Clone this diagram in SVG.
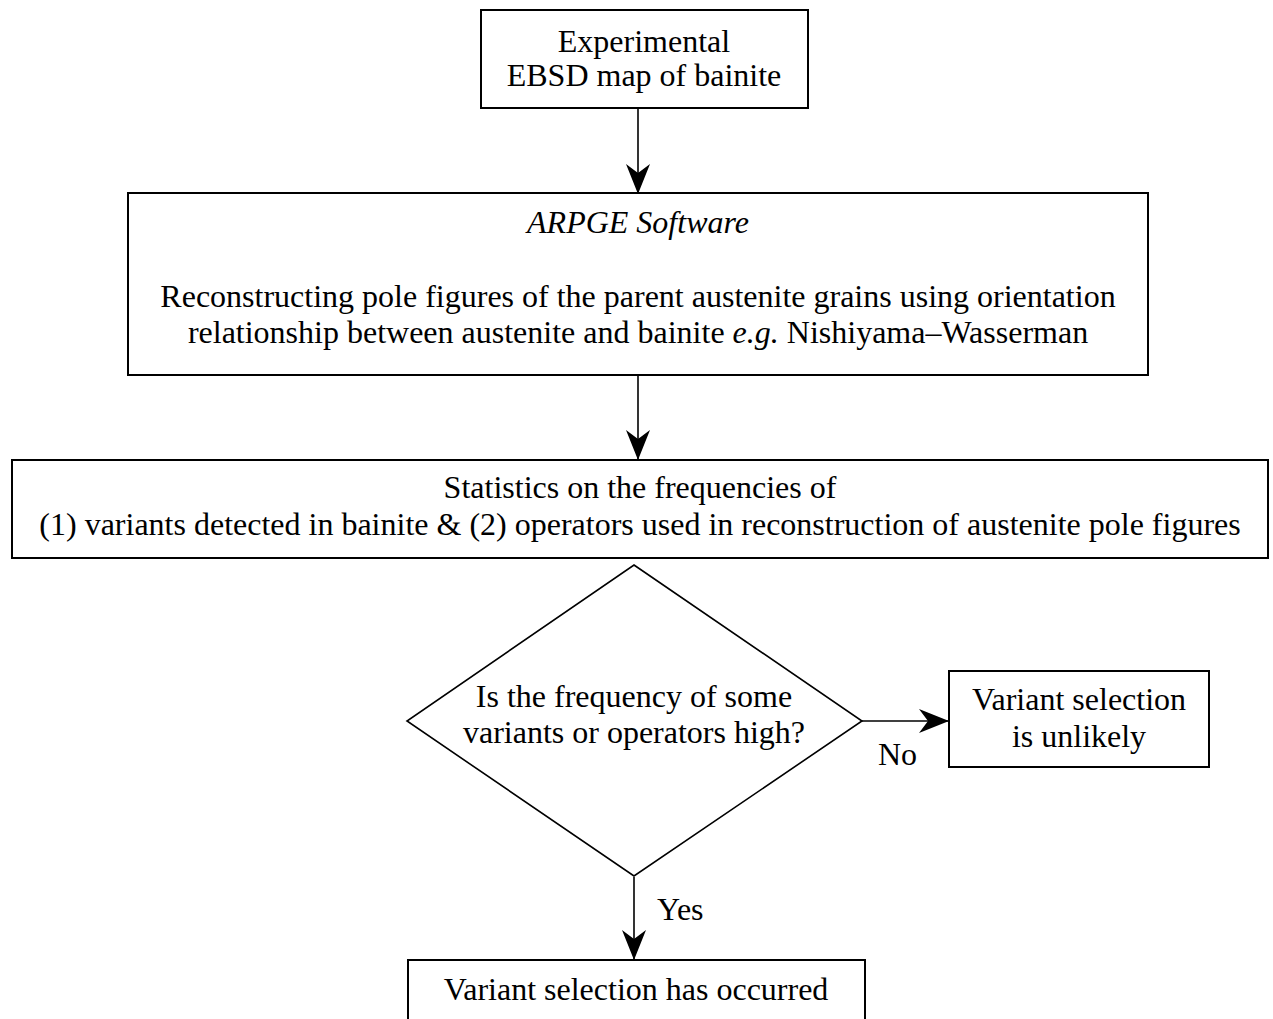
<svg xmlns="http://www.w3.org/2000/svg" width="1273" height="1019" viewBox="0 0 1273 1019">
<defs>
<style>
text { font-family: "Liberation Serif", "Times New Roman", serif; font-size: 32px; fill: #000; text-anchor: middle; }
.box { fill: #fff; stroke: #000; stroke-width: 2; }
.dia { fill: #fff; stroke: #000; stroke-width: 1.6; }
.conn { stroke: #000; stroke-width: 1.6; fill: none; marker-end: url(#arr); }
.lbl { text-anchor: start; }
</style>
<marker id="arr" viewBox="0 0 30 24" refX="29" refY="12" markerWidth="30" markerHeight="24" markerUnits="userSpaceOnUse" orient="auto">
<path d="M30,12 L0,0 L9,12 L0,24 Z" fill="#000"/>
</marker>
</defs>
<rect width="1273" height="1019" fill="#fff"/>
<g id="connectors">
<line class="conn" x1="638" y1="109" x2="638" y2="193"/>
<line class="conn" x1="638" y1="376" x2="638" y2="459"/>
<line class="conn" x1="862" y1="721" x2="948" y2="721"/>
<line class="conn" x1="634" y1="877" x2="634" y2="959"/>
<text class="lbl" x="878" y="765">No</text>
<text class="lbl" x="657" y="920">Yes</text>
</g>
<g id="n1">
<rect class="box" x="481" y="10" width="327" height="98"/>
<text x="644" y="52">Experimental</text>
<text x="644" y="86">EBSD map of bainite</text>
</g>
<g id="n2">
<rect class="box" x="128" y="193" width="1020" height="182"/>
<text x="638" y="233" font-style="italic">ARPGE Software</text>
<text x="638" y="307">Reconstructing pole figures of the parent austenite grains using orientation</text>
<text x="638" y="343">relationship between austenite and bainite <tspan font-style="italic">e.g.</tspan> Nishiyama–Wasserman</text>
</g>
<g id="n3">
<rect class="box" x="12" y="460" width="1256" height="98"/>
<text x="640" y="498">Statistics on the frequencies of</text>
<text x="640" y="535">(1) variants detected in bainite &amp; (2) operators used in reconstruction of austenite pole figures</text>
</g>
<g id="n4">
<polygon class="dia" points="634,565 862,721 634,876 407,721"/>
<text x="634" y="707">Is the frequency of some</text>
<text x="634" y="743">variants or operators high?</text>
</g>
<g id="n5">
<rect class="box" x="949" y="671" width="260" height="96"/>
<text x="1079" y="710">Variant selection</text>
<text x="1079" y="747">is unlikely</text>
</g>
<g id="n6">
<rect class="box" x="408" y="960" width="457" height="70"/>
<text x="636" y="1000">Variant selection has occurred</text>
</g>
</svg>
